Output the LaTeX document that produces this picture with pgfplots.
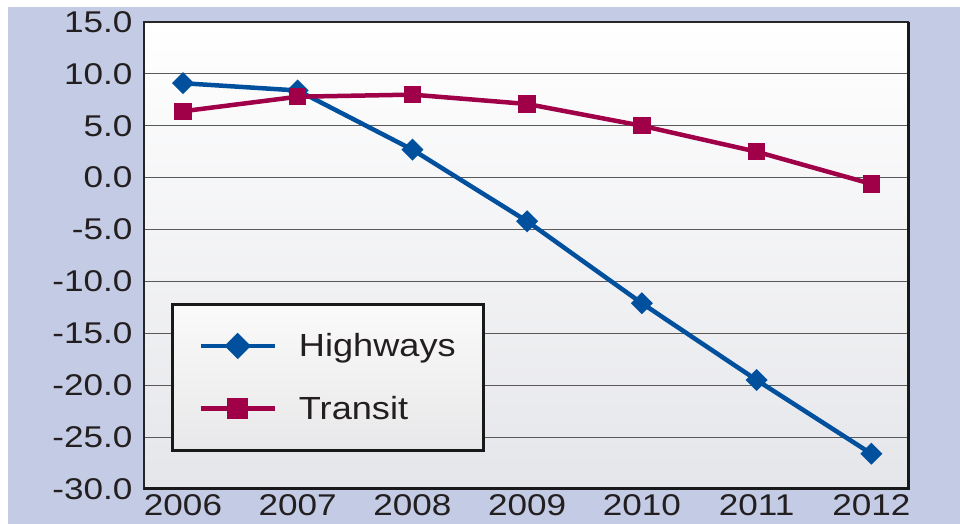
\documentclass[border=0pt]{standalone}
\usepackage{pgfplots}
\pgfplotsset{compat=1.18}
\usepackage{fontspec}
\setmainfont{Liberation Sans}
\newfontfamily\tickfont[FakeStretch=1.17]{Liberation Sans}
\newfontfamily\legfont[FakeStretch=1.13]{Liberation Sans}
\definecolor{bgl}{RGB}{196,203,228}
\definecolor{hwy}{RGB}{0,80,158}
\definecolor{trn}{RGB}{160,0,72}
\definecolor{txt}{RGB}{35,31,32}
\definecolor{pbot}{RGB}{229,230,234}
\definecolor{lbot}{RGB}{232,232,234}
\pgfdeclareplotmark{sqdiamond}{%
  \pgfpathmoveto{\pgfqpoint{0pt}{\pgfplotmarksize}}%
  \pgfpathlineto{\pgfqpoint{\pgfplotmarksize}{0pt}}%
  \pgfpathlineto{\pgfqpoint{0pt}{-\pgfplotmarksize}}%
  \pgfpathlineto{\pgfqpoint{-\pgfplotmarksize}{0pt}}%
  \pgfpathclose\pgfusepathqfill}
\pgfdeclareplotmark{fsquare}{%
  \pgfpathrectangle{\pgfqpoint{-\pgfplotmarksize}{-\pgfplotmarksize}}{\pgfqpoint{2\pgfplotmarksize}{2\pgfplotmarksize}}%
  \pgfusepathqfill}
\begin{document}
\begin{tikzpicture}
\fill[white] (0,0) rectangle (960pt,524pt);
\fill[bgl] (8pt,0) rectangle (960pt,517pt);
\begin{axis}[
  at={(144pt,35pt)}, anchor=south west,
  scale only axis, width=764pt, height=467pt,
  xmin=-0.34, xmax=6.32, ymin=-30, ymax=15,
  xtick={0,1,2,3,4,5,6},
  xticklabels={2006,2007,2008,2009,2010,2011,2012},
  ytick={-30,-25,-20,-15,-10,-5,0,5,10,15},
  yticklabels={-30.0,-25.0,-20.0,-15.0,-10.0,-5.0,0.0,5.0,10.0,15.0},
  ticklabel style={font=\tickfont\fontsize{30}{30}\selectfont, text=txt},
  yticklabel style={xshift=-8pt},
  xticklabel style={yshift=-2pt},
  major tick length=0pt,
  ymajorgrids,
  major grid style={draw=black!65, line width=1pt},
  axis line style={draw=black!85, line width=1.4pt},
  axis background/.style={shade, top color=white, bottom color=pbot},
  clip=false,
  legend style={at={(rel axis cs:0.0353,0.398)}, anchor=north west,
    draw=black!90, line width=3pt, top color=white!98!black, bottom color=lbot,
    font=\legfont\fontsize{32}{32}\selectfont, text=txt,
    inner xsep=26pt, inner ysep=27pt, row sep=34pt},
  legend cell align=left,
  legend image code/.code={%
    \draw[mark repeat=2,mark phase=2,#1,mark options={scale=1.2}]
      plot coordinates {(0pt,0pt) (37pt,0pt) (74pt,0pt)};},
  after end axis/.code={
    \draw[black!90, line width=3pt] (rel axis cs:1,1) -- (rel axis cs:1,0) -- (rel axis cs:0,0);
  },
]
\addplot[color=hwy, line width=4.5pt, mark=sqdiamond, mark size=11pt]
  coordinates {(0,9.1) (1,8.4) (2,2.7) (3,-4.2) (4,-12.1) (5,-19.5) (6,-26.6)};
\addlegendentry{\hspace{20pt}Highways}
\addplot[color=trn, line width=4.5pt, mark=fsquare, mark size=8.7pt]
  coordinates {(0,6.4) (1,7.8) (2,8.0) (3,7.1) (4,5.0) (5,2.5) (6,-0.6)};
\addlegendentry{\hspace{20pt}Transit}
\end{axis}
\pgfresetboundingbox
\useasboundingbox (0,0) rectangle (960pt,524pt);
\end{tikzpicture}
\end{document}
